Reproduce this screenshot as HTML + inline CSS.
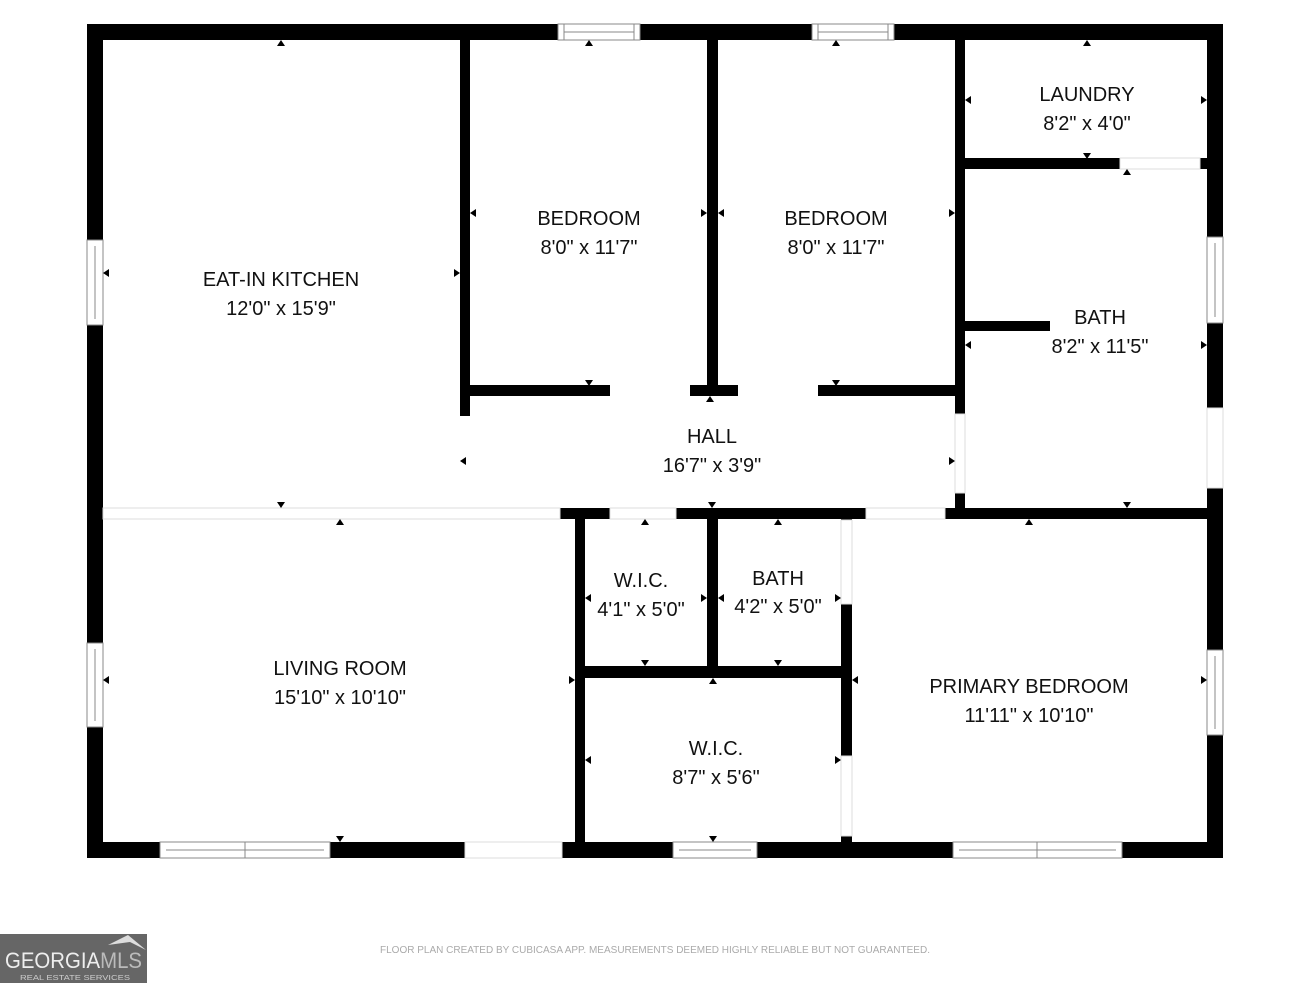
<!DOCTYPE html>
<html><head><style>
body{margin:0;background:#fff;}
svg{display:block}
text{font-family:"Liberation Sans",sans-serif;fill:#111;}
</style></head><body>
<svg width="1310" height="983" viewBox="0 0 1310 983">
<defs>
<polygon id="u" points="-4,3 4,3 0,-3" fill="#000"/>
<polygon id="d" points="-4,-3 4,-3 0,3" fill="#000"/>
<polygon id="l" points="3,-4 3,4 -3,0" fill="#000"/>
<polygon id="r" points="-3,-4 -3,4 3,0" fill="#000"/>
</defs>
<g fill="#000">
<rect x="87" y="24" width="1136" height="16"/>
<rect x="87" y="842" width="1136" height="16"/>
<rect x="87" y="24" width="16" height="834"/>
<rect x="1207" y="24" width="16" height="834"/>
<rect x="460" y="40" width="10" height="376"/>
<rect x="460" y="385" width="150" height="11"/>
<rect x="690" y="385" width="48" height="11"/>
<rect x="818" y="385" width="147" height="11"/>
<rect x="707" y="40" width="11" height="356"/>
<rect x="955" y="40" width="10" height="374"/>
<rect x="955" y="493" width="10" height="25"/>
<rect x="965" y="158" width="155" height="11"/>
<rect x="1200" y="158" width="7" height="11"/>
<rect x="965" y="321" width="85" height="10"/>
<rect x="560" y="508" width="50" height="11"/>
<rect x="676" y="508" width="190" height="11"/>
<rect x="945" y="508" width="262" height="11"/>
<rect x="575" y="508" width="10" height="334"/>
<rect x="707" y="508" width="11" height="166"/>
<rect x="585" y="666" width="260" height="12"/>
<rect x="841" y="508" width="11" height="12"/>
<rect x="841" y="604" width="11" height="152"/>
<rect x="841" y="836" width="11" height="10"/>
</g>
<g fill="#fff" stroke="#888" stroke-width="1">
<rect x="558" y="24" width="82" height="16"/><line x1="564" y1="32" x2="634" y2="32"/><line x1="564" y1="24" x2="564" y2="40"/><line x1="634" y1="24" x2="634" y2="40"/>
<rect x="812" y="24" width="82" height="16"/><line x1="818" y1="32" x2="888" y2="32"/><line x1="818" y1="24" x2="818" y2="40"/><line x1="888" y1="24" x2="888" y2="40"/>
<rect x="87" y="240" width="16" height="85"/><line x1="95" y1="246" x2="95" y2="319"/>
<rect x="87" y="643" width="16" height="84"/><line x1="95" y1="649" x2="95" y2="721"/>
<rect x="1207" y="237" width="16" height="86"/><line x1="1215" y1="243" x2="1215" y2="317"/>
<rect x="1207" y="650" width="16" height="85"/><line x1="1215" y1="656" x2="1215" y2="729"/>
<rect x="160" y="842" width="170" height="16"/><line x1="166" y1="850" x2="324" y2="850"/><line x1="245" y1="842" x2="245" y2="858"/>
<rect x="673" y="842" width="84" height="16"/><line x1="679" y1="850" x2="751" y2="850"/>
<rect x="953" y="842" width="169" height="16"/><line x1="959" y1="850" x2="1116" y2="850"/><line x1="1037" y1="842" x2="1037" y2="858"/>
</g>
<g fill="#fff" stroke="#ddd" stroke-width="1">
<rect x="465" y="842" width="97" height="16"/>
<rect x="1207" y="408" width="16" height="80"/>
<rect x="103" y="508" width="457" height="11"/>
<rect x="610" y="508" width="66" height="11"/>
<rect x="866" y="508" width="79" height="11"/>
<rect x="955" y="414" width="10" height="79"/>
<rect x="841" y="520" width="11" height="84"/>
<rect x="841" y="756" width="11" height="80"/>
<rect x="1120" y="158" width="80" height="11"/>
</g>
<g>
<use href="#u" x="281" y="43"/><use href="#u" x="589" y="43"/><use href="#u" x="836" y="43"/><use href="#u" x="1087" y="43"/>
<use href="#l" x="106" y="273"/><use href="#r" x="457" y="273"/>
<use href="#l" x="473" y="213"/><use href="#r" x="704" y="213"/>
<use href="#l" x="721" y="213"/><use href="#r" x="952" y="213"/>
<use href="#l" x="968" y="100"/><use href="#r" x="1204" y="100"/><use href="#d" x="1087" y="156"/>
<use href="#u" x="1127" y="172"/><use href="#l" x="968" y="345"/><use href="#r" x="1204" y="345"/><use href="#d" x="1127" y="505"/>
<use href="#d" x="589" y="383"/><use href="#d" x="836" y="383"/>
<use href="#u" x="710" y="399"/><use href="#l" x="463" y="461"/><use href="#r" x="952" y="461"/><use href="#d" x="712" y="505"/>
<use href="#d" x="281" y="505"/>
<use href="#u" x="340" y="522"/><use href="#l" x="106" y="680"/><use href="#r" x="572" y="680"/><use href="#d" x="340" y="839"/>
<use href="#u" x="645" y="522"/><use href="#l" x="588" y="598"/><use href="#r" x="704" y="598"/><use href="#d" x="645" y="663"/>
<use href="#u" x="778" y="522"/><use href="#l" x="721" y="598"/><use href="#r" x="838" y="598"/><use href="#d" x="778" y="663"/>
<use href="#u" x="713" y="681"/><use href="#l" x="588" y="760"/><use href="#r" x="838" y="760"/><use href="#d" x="713" y="839"/>
<use href="#u" x="1029" y="522"/><use href="#l" x="855" y="680"/><use href="#r" x="1204" y="680"/>
</g>
<g font-size="20" text-anchor="middle">
<text x="281" y="286">EAT-IN KITCHEN</text><text x="281" y="315">12'0" x 15'9"</text>
<text x="589" y="225">BEDROOM</text><text x="589" y="254">8'0" x 11'7"</text>
<text x="836" y="225">BEDROOM</text><text x="836" y="254">8'0" x 11'7"</text>
<text x="1087" y="101">LAUNDRY</text><text x="1087" y="130">8'2" x 4'0"</text>
<text x="1100" y="324">BATH</text><text x="1100" y="353">8'2" x 11'5"</text>
<text x="712" y="443">HALL</text><text x="712" y="472">16'7" x 3'9"</text>
<text x="641" y="587">W.I.C.</text><text x="641" y="616">4'1" x 5'0"</text>
<text x="778" y="585">BATH</text><text x="778" y="613">4'2" x 5'0"</text>
<text x="340" y="675">LIVING ROOM</text><text x="340" y="704">15'10" x 10'10"</text>
<text x="716" y="755">W.I.C.</text><text x="716" y="784">8'7" x 5'6"</text>
<text x="1029" y="693">PRIMARY BEDROOM</text><text x="1029" y="722">11'11" x 10'10"</text>
</g>
<text x="655" y="953" font-size="10" text-anchor="middle" style="fill:#aaa">FLOOR PLAN CREATED BY CUBICASA APP. MEASUREMENTS DEEMED HIGHLY RELIABLE BUT NOT GUARANTEED.</text>
<rect x="0" y="934" width="147" height="49" fill="#666"/>
<polygon points="108,945 128,935 146,950 130,942" fill="#ddd"/>
<text x="5" y="968" font-size="22" textLength="137" lengthAdjust="spacingAndGlyphs" style="fill:#eee">GEORGIA<tspan style="fill:#bbb">MLS</tspan></text>
<text x="20" y="980" font-size="7" textLength="110" lengthAdjust="spacingAndGlyphs" style="fill:#ccc">REAL ESTATE SERVICES</text>
</svg>
</body></html>
